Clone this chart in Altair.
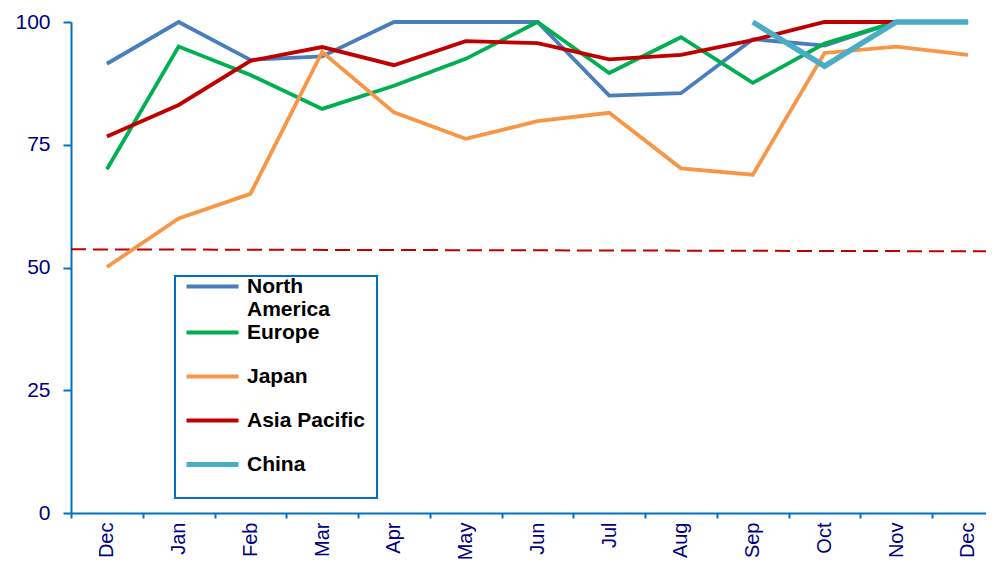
import altair as alt
import pandas as pd

months = ["Dec", "Jan", "Feb", "Mar", "Apr", "May", "Jun", "Jul", "Aug", "Sep", "Oct", "Nov", "Dec"]
series = ["North America", "Europe", "Japan", "Asia Pacific", "China"]
colors = ["#4A7EBB", "#00B050", "#F79646", "#C00000", "#4BACC6"]

north_america = [91.5, 100, 92.3, 93, 100, 100, 100, 85, 85.5, 96.5, 95.2, 100, 100]
europe = [70, 95, 89.2, 82.3, 87, 92.5, 100, 89.6, 96.9, 87.6, 95.6, 100, 100]
japan = [50.1, 60, 65, 93.9, 81.6, 76.2, 79.8, 81.5, 70.2, 68.9, 93.7, 95, 93.3]
asia_pacific = [76.7, 83.1, 92.1, 94.9, 91.2, 96.1, 95.7, 92.4, 93.3, 96.3, 100, 100, 100]
china = [None, None, None, None, None, None, None, None, None, 100, 91, 100, 100]

threshold_x = [-0.5, 12.25]
threshold_y = [53.7, 53.3]

rows = []
for name, vals in zip(series, [north_america, europe, japan, asia_pacific, china]):
    for i, v in enumerate(vals):
        if v is not None:
            rows.append({"series": name, "idx": i, "month": months[i], "value": v})
df = pd.DataFrame(rows)
thr = pd.DataFrame({"x": threshold_x, "y": threshold_y})

month_js = "[" + ",".join("'" + m + "'" for m in months) + "]"

x_scale = alt.Scale(domain=[-0.5, 12.25], nice=False, zero=False)
y_scale = alt.Scale(domain=[0, 100], nice=False)

x_axis = alt.Axis(
    values=[i - 0.5 for i in range(13)],
    labelExpr=month_js + "[round(datum.value + 0.5)]",
    labelOffset=35.8,
    labelAngle=270,
    labelAlign="right",
    labelBaseline="middle",
    labelFontSize=20,
    labelColor="#000080",
    labelFont="Liberation Sans",
    labelPadding=4,
    labelOverlap=False,
    labelBound=False,
    labelFlush=False,
    tickSize=5,
    tickColor="#0070C0",
    tickWidth=2,
    domainColor="#0070C0",
    domainWidth=2,
    grid=False,
    title=None,
)
y_axis = alt.Axis(
    values=[0, 25, 50, 75, 100],
    labelFontSize=21,
    labelColor="#000080",
    labelFont="Liberation Sans",
    labelPadding=13,
    tickSize=8,
    tickColor="#0070C0",
    tickWidth=2,
    domainColor="#0070C0",
    domainWidth=2,
    grid=False,
    title=None,
)

# legend symbol: visible stroke to the right of the entry origin; zero-length
# invisible segments only set the size of the legend box / entry rows
legend_symbol = "M18.1,0h0M1,2.3h0M0.1,0H5.3"

legend = alt.Legend(
    title=None,
    orient="none",
    legendX=104,
    legendY=254,
    symbolType=legend_symbol,
    symbolSize=400,
    symbolStrokeWidth={"expr": "datum.label == 'China' ? 5 : 4"},
    labelExpr="datum.label == 'North America' ? ['North', 'America'] : datum.label",
    labelFont="Liberation Sans",
    labelFontWeight="bold",
    labelFontSize=21,
    labelColor="#000000",
    labelOffset=51,
    labelBaseline="middle",
    rowPadding=1,
    padding=0,
    strokeColor="#0070C0",
    fillColor="#FFFFFF",
)

thr_line = alt.Chart(thr).mark_line(
    color="#C00000", strokeWidth=2, strokeDash=[15, 7]
).encode(
    x=alt.X("x:Q", scale=x_scale, axis=x_axis),
    y=alt.Y("y:Q", scale=y_scale, axis=y_axis),
)

lines = alt.Chart(df).mark_line().encode(
    x=alt.X("idx:Q", scale=x_scale, axis=x_axis),
    y=alt.Y("value:Q", scale=y_scale, axis=y_axis),
    color=alt.Color("series:N", scale=alt.Scale(domain=series, range=colors), legend=legend, sort=series),
    strokeWidth=alt.condition(alt.datum.series == "China", alt.value(5.5), alt.value(3.8)),
    order="idx:Q",
    detail="series:N",
)

chart = alt.layer(thr_line, lines).properties(
    width=915,
    height=491,
    autosize=alt.AutoSizeParams(type="none"),
    padding={"left": 63, "top": 14, "right": 0, "bottom": 47},
).configure_view(stroke=None).configure_legend(strokeColor="#0070C0", strokeWidth=2)

chart.save("out.html", embed_options={"renderer": "svg", "actions": False})
